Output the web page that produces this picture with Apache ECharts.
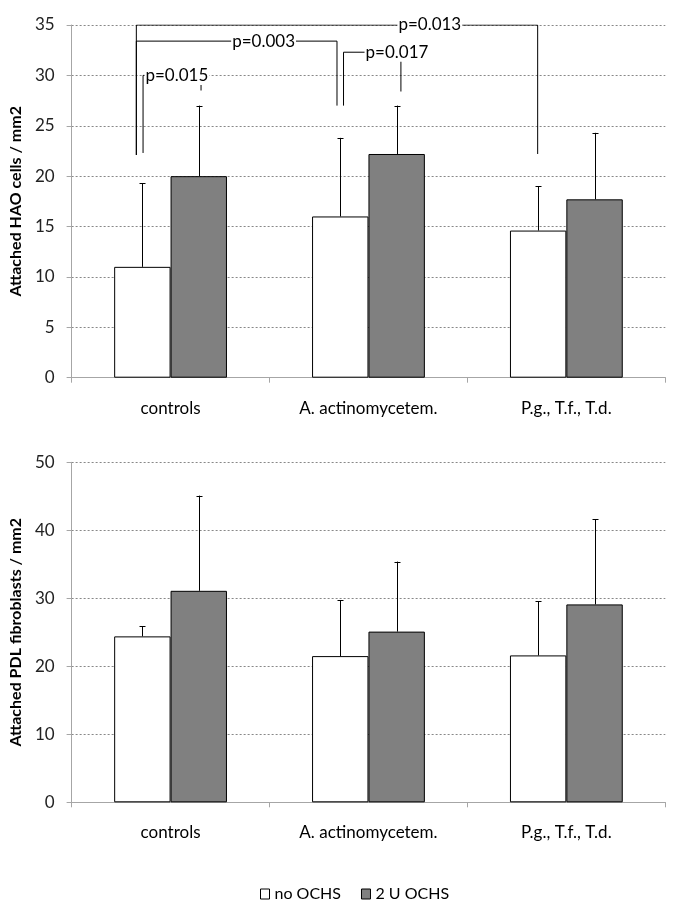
<!DOCTYPE html>
<html><head><meta charset="utf-8">
<script src="https://cdn.jsdelivr.net/npm/echarts@6/dist/echarts.min.js"></script>
<style>html,body{margin:0;padding:0;background:#fff}#c{width:685px;height:913px}</style>
</head><body><div id="c"></div>
<script>
// ---- data ----
const categories = ['controls', 'A. actinomycetem.', 'P.g., T.f., T.d.'];
const seriesNames = ['no OCHS', '2 U OCHS'];
const haoNoOchs = [11.0, 16.0, 14.6];
const haoNoOchsSD = [8.3, 7.8, 4.4];
const haoOchs = [20.0, 22.2, 17.7];
const haoOchsSD = [7.0, 4.8, 6.6];
const pdlNoOchs = [24.4, 21.5, 21.6];
const pdlNoOchsSD = [1.5, 8.2, 8.0];
const pdlOchs = [31.1, 25.1, 29.1];
const pdlOchsSD = [14.0, 10.3, 12.5];
const haoAxisName = 'Attached HAO cells / mm2';
const pdlAxisName = 'Attached PDL fibroblasts / mm2';
const haoScale = [0, 35, 5];
const pdlScale = [0, 50, 10];
// significance brackets (x in category units, y in data units)
const bracketLabels = ['p=0.015', 'p=0.003', 'p=0.017', 'p=0.013'];
const bracketPaths = [
  [[0.361, 22.3], [0.361, 30.0], [0.654, 30.0], [0.654, 28.5]],
  [[0.327, 22.1], [0.327, 33.4], [1.341, 33.4], [1.341, 27.0]],
  [[1.374, 27.0], [1.374, 32.3], [1.664, 32.3], [1.664, 28.4]],
  [[0.327, 22.1], [0.327, 35.0], [2.355, 35.0], [2.355, 22.2]]
];
const bracketLabelAt = [[0.532, 30.0], [0.970, 33.4], [1.644, 32.3], [1.810, 35.0]];

// ---- layout / style ----
const FONT = 'Lato, "Liberation Sans", sans-serif';
const GAP = 0.43;            // barCategoryGap fraction
const BW = (1 - GAP) / 2;    // bar width fraction
const offNo = GAP / 2 + BW / 2;
const offO = GAP / 2 + BW * 1.5;
const AXC = '#a6a6a6';

function errData(vals, sds, off) {
  return vals.map((v, i) => [i + off, v, v + sds[i]]);
}
function errSeries(vals, sds, off, xi, yi) {
  return {
    type: 'custom', xAxisIndex: xi, yAxisIndex: yi, z: 5, silent: true,
    data: errData(vals, sds, off),
    renderItem: function (params, api) {
      const p1 = api.coord([api.value(0), api.value(1)]);
      const p2 = api.coord([api.value(0), api.value(2)]);
      const x = Math.round(p1[0]) + 0.5;
      return {
        type: 'group', children: [
          { type: 'line', shape: { x1: x, y1: p1[1], x2: x, y2: p2[1] }, style: { stroke: '#000', lineWidth: 1 } },
          { type: 'line', shape: { x1: x - 3, y1: Math.round(p2[1]) + 0.5, x2: x + 3, y2: Math.round(p2[1]) + 0.5 }, style: { stroke: '#000', lineWidth: 1 } }
        ]
      };
    }
  };
}
function yAxis(gi, sc, name) {
  return {
    gridIndex: gi, type: 'value', min: sc[0], max: sc[1], interval: sc[2],
    name: name, nameLocation: 'middle', nameGap: 40,
    nameTextStyle: { fontFamily: FONT, fontWeight: 'bold', fontSize: 16, color: '#000' },
    axisLine: { show: true, lineStyle: { color: AXC, width: 1 } },
    axisTick: { show: true, length: 5, lineStyle: { color: AXC } },
    axisLabel: { fontFamily: FONT, fontSize: 17, color: '#222', margin: 17 },
    splitLine: { show: true, lineStyle: { color: '#888', width: 1, type: [2, 2] } }
  };
}
function xCat(gi) {
  return {
    gridIndex: gi, type: 'category', data: categories,
    axisLine: { show: true, lineStyle: { color: AXC, width: 1 } },
    axisTick: { show: true, length: 5, alignWithLabel: false, lineStyle: { color: AXC } },
    axisLabel: { fontFamily: FONT, fontSize: 17, color: '#000', margin: 22, interval: 0 },
    splitLine: { show: false }
  };
}
function xVal(gi) {
  return { gridIndex: gi, type: 'value', min: 0, max: 3, show: false, splitLine: { show: false } };
}
function bar(name, data, color, xi, yi) {
  return {
    type: 'bar', name: name, data: data, xAxisIndex: xi, yAxisIndex: yi,
    barGap: '0%', barCategoryGap: (GAP * 100) + '%', silent: true,
    itemStyle: { color: color, borderColor: '#000', borderWidth: 1 }
  };
}

const series = [
  bar(seriesNames[0], haoNoOchs, '#ffffff', 0, 0),
  bar(seriesNames[1], haoOchs, '#808080', 0, 0),
  bar(seriesNames[0], pdlNoOchs, '#ffffff', 2, 1),
  bar(seriesNames[1], pdlOchs, '#808080', 2, 1),
  errSeries(haoNoOchs, haoNoOchsSD, offNo, 1, 0),
  errSeries(haoOchs, haoOchsSD, offO, 1, 0),
  errSeries(pdlNoOchs, pdlNoOchsSD, offNo, 3, 1),
  errSeries(pdlOchs, pdlOchsSD, offO, 3, 1)
];
bracketPaths.forEach(function (path) {
  series.push({
    type: 'line', xAxisIndex: 1, yAxisIndex: 0, data: path, symbol: 'none', z: 6, silent: true,
    lineStyle: { color: '#000', width: 1 }
  });
});
series.push({
  type: 'custom', xAxisIndex: 1, yAxisIndex: 0, z: 10, silent: true,
  data: bracketLabelAt.map((p, i) => [p[0], p[1], i]),
  renderItem: function (params, api) {
    const p = api.coord([api.value(0), api.value(1)]);
    return {
      type: 'text', x: p[0], y: p[1],
      style: {
        text: bracketLabels[api.value(2)], fill: '#000', font: '17px ' + FONT,
        align: 'center', verticalAlign: 'middle', backgroundColor: '#fff', padding: [1, 1, 1, 1]
      }
    };
  }
});

const chart = echarts.init(document.getElementById('c'), null, { renderer: 'canvas' });
chart.setOption({
  animation: false,
  backgroundColor: '#fff',
  textStyle: { fontFamily: FONT },
  grid: [
    { left: 69.3, top: 25, width: 596, height: 352.7 },
    { left: 69.3, top: 462.3, width: 596, height: 340 }
  ],
  xAxis: [xCat(0), xVal(0), xCat(1), xVal(1)],
  yAxis: [yAxis(0, haoScale, haoAxisName), yAxis(1, pdlScale, pdlAxisName)],
  legend: {
    left: 255, top: 881, icon: 'rect', itemWidth: 9, itemHeight: 10, itemGap: 20,
    selectedMode: false,
    textStyle: { fontFamily: FONT, fontSize: 16, color: '#000' },
    data: [
      { name: seriesNames[0], itemStyle: { color: '#fff', borderColor: '#000', borderWidth: 1 } },
      { name: seriesNames[1], itemStyle: { color: '#808080', borderColor: '#000', borderWidth: 1 } }
    ]
  },
  series: series
});
</script></body></html>
